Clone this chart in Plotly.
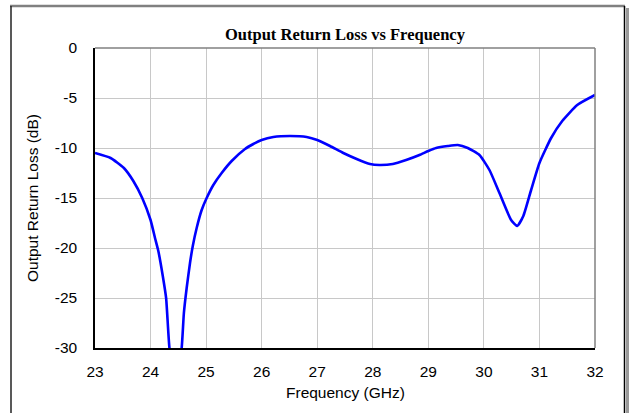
import plotly.graph_objects as go

# Data
freq_ghz = [23.0, 23.28, 23.52, 23.69, 23.85, 24.0, 24.08, 24.14, 24.22, 24.28, 24.34, 24.45,
            24.56, 24.6, 24.65, 24.71, 24.76, 24.83, 24.92, 25.01, 25.13, 25.28, 25.46, 25.7,
            25.85, 26.0, 26.21,
            26.51, 26.81, 27.0, 27.23, 27.47, 27.71, 27.95, 28.12, 28.36, 28.6, 28.84, 29.0,
            29.14, 29.35, 29.53, 29.71, 29.92, 30.1, 30.28, 30.49, 30.6, 30.71, 30.85, 31.0,
            31.21, 31.41, 31.68, 32.0]
return_loss_db = [-10.5, -11.0, -12.0, -13.3, -15.0, -17.2, -19.0, -20.3, -22.8, -25.0, -30.0, -34.0,
                  -30.0, -26.5, -24.0, -21.5, -19.8, -18.0, -16.2, -15.0, -13.7, -12.5, -11.3, -10.1,
                  -9.6, -9.2, -8.9,
                  -8.8, -8.9, -9.2, -9.8, -10.5, -11.1, -11.6, -11.7, -11.6, -11.2, -10.7, -10.3,
                  -10.0, -9.8, -9.7, -10.0, -10.7, -12.2, -14.5, -17.2, -17.8, -16.8, -14.2, -11.5,
                  -9.0, -7.3, -5.7, -4.7]

x_ticks = [23, 24, 25, 26, 27, 28, 29, 30, 31, 32]
x_tick_text = [str(v) for v in x_ticks]
y_ticks = [0, -5, -10, -15, -20, -25, -30]
y_tick_text = ["0", "-5", "-10", "-15", "-20", "-25", "-30"]

title_text = "Output Return Loss vs Frequency"
x_title = "Frequency (GHz)"
y_title = "Output Return Loss (dB)"

W, H = 629, 413
L, R, T, B = 95, 34, 48, 65
pw, ph = W - L - R, H - T - B


def px_x(px):
    return (px - L) / pw


def px_y(py):
    return (H - B - py) / ph


fig = go.Figure()
fig.add_trace(go.Scatter(
    x=freq_ghz, y=return_loss_db, mode="lines",
    line=dict(color="#0000FF", width=2.6, shape="spline", smoothing=0.5),
    hoverinfo="skip", showlegend=False,
))

sans = "Liberation Sans, Arial, sans-serif"
serif = "Liberation Serif, Times New Roman, serif"

fig.update_layout(
    width=W, height=H,
    margin=dict(l=L, r=R, t=T, b=B),
    paper_bgcolor="white", plot_bgcolor="white",
    font=dict(family=sans, size=15, color="black"),
    xaxis=dict(range=[23, 32], tickvals=x_ticks, ticktext=x_tick_text,
               showgrid=True, gridcolor="#c8c8c8", gridwidth=1,
               showline=True, linecolor="black", linewidth=1.5,
               ticks="", ticklabelstandoff=9, zeroline=False,
               tickfont=dict(family=sans, size=15.5)),
    yaxis=dict(range=[-30, 0], tickvals=y_ticks, ticktext=y_tick_text,
               showgrid=True, gridcolor="#c8c8c8", gridwidth=1,
               showline=True, linecolor="black", linewidth=1.5,
               ticks="", ticklabelstandoff=13, zeroline=False,
               tickfont=dict(family=sans, size=15.5)),
    shapes=[
        # gray top and right edges of plot box
        dict(type="line", xref="paper", yref="paper", x0=0, x1=1, y0=1, y1=1,
             line=dict(color="#808080", width=1.5)),
        dict(type="line", xref="paper", yref="paper", x0=1, x1=1, y0=0, y1=1,
             line=dict(color="#808080", width=1.5)),
        # outer frame
        dict(type="line", xref="paper", yref="paper", x0=px_x(10), x1=px_x(625),
             y0=px_y(6), y1=px_y(6), line=dict(color="#808080", width=2.5)),
        dict(type="line", xref="paper", yref="paper", x0=px_x(11), x1=px_x(11),
             y0=px_y(6), y1=px_y(420), line=dict(color="#222222", width=1.5)),
        dict(type="line", xref="paper", yref="paper", x0=px_x(624.5), x1=px_x(624.5),
             y0=px_y(6), y1=px_y(420), line=dict(color="black", width=1.5)),
        dict(type="line", xref="paper", yref="paper", x0=px_x(627.5), x1=px_x(627.5),
             y0=px_y(8), y1=px_y(420), line=dict(color="#999999", width=3)),
    ],
    annotations=[
        dict(text="<b>" + title_text + "</b>", xref="paper", yref="paper",
             x=px_x(345), y=px_y(34), xanchor="center", yanchor="middle",
             showarrow=False, font=dict(family=serif, size=16.5, color="black")),
        dict(text=x_title, xref="paper", yref="paper",
             x=px_x(345), y=px_y(392), xanchor="center", yanchor="middle",
             showarrow=False, font=dict(family=sans, size=15.5)),
        dict(text=y_title, xref="paper", yref="paper", textangle=-90,
             x=px_x(32), y=px_y(198), xanchor="center", yanchor="middle",
             showarrow=False, font=dict(family=sans, size=15.5)),
    ],
)

fig.write_html("out.html")
